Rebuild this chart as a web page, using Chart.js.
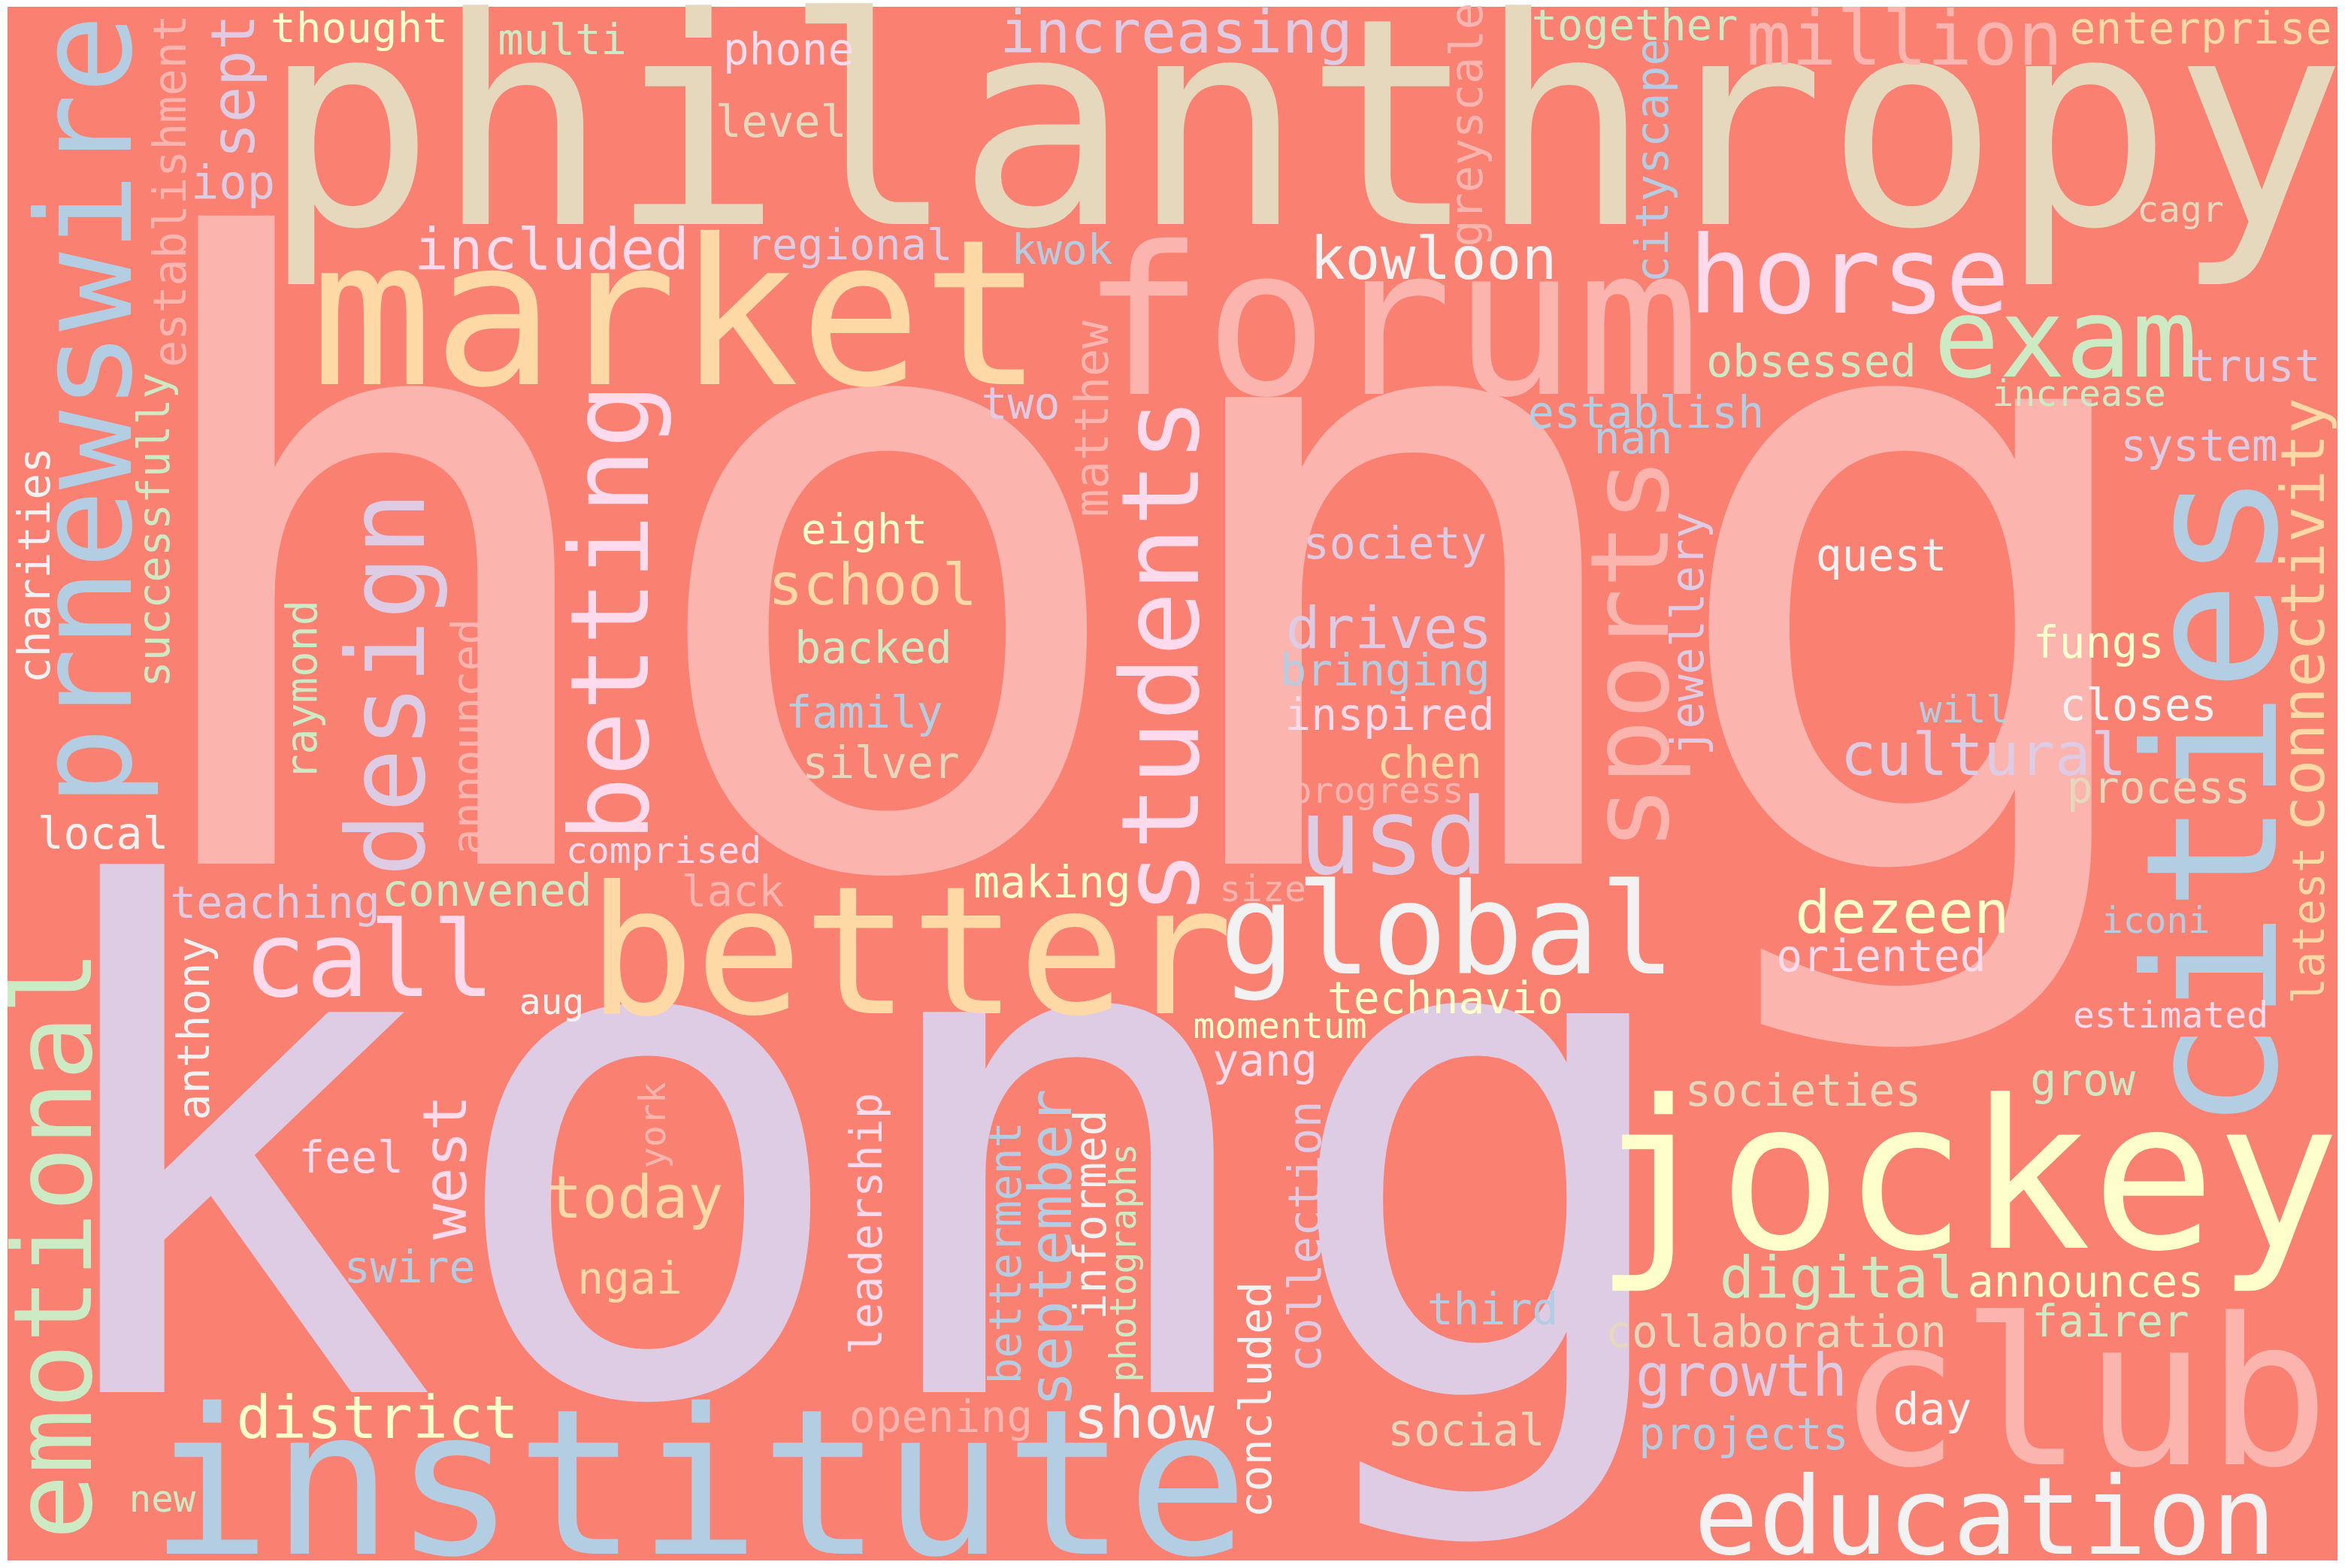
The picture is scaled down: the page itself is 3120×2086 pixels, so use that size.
<!DOCTYPE html>
<html>
<head>
<meta charset="utf-8">
<title>hong kong word cloud</title>
<script src="https://cdn.jsdelivr.net/npm/chart.js@4.4.1/dist/chart.umd.min.js"></script>
<style>
  html, body { margin: 0; padding: 0; background: #ffffff; overflow: hidden; }
  #wrap { position: absolute; left: 0; top: 0; width: 100vw; height: 100vh; }
</style>
</head>
<body>
<div id="wrap"><canvas id="cloud"></canvas></div>
<script>
// words of the cloud and their weights (font height, in y-axis units)
var words = [
  'hong', 'kong', 'philanthropy', 'market', 'forum', 'jockey', 'club', 'institute',
  'better', 'cities', 'prnewswire', 'global', 'emotional', 'education', 'horse', 'exam',
  'students', 'betting', 'design', 'sports', 'usd', 'call', 'million', 'included',
  'kowloon', 'increasing', 'school', 'drives', 'cultural', 'dezeen', 'today', 'digital',
  'growth', 'district', 'show', 'september', 'west', 'connectivity', 'sept', 'thought',
  'multi', 'phone', 'together', 'enterprise', 'level', 'regional', 'kwok', 'iop',
  'establishment', 'greyscale', 'cityscape', 'cagr', 'obsessed', 'trust', 'increase', 'establish',
  'nan', 'system', 'matthew', 'two', 'charities', 'successfully', 'raymond', 'eight',
  'backed', 'family', 'silver', 'announced', 'society', 'quest', 'bringing', 'inspired',
  'jewellery', 'fungs', 'will', 'closes', 'chen', 'progress', 'process', 'latest',
  'local', 'comprised', 'lack', 'size', 'making', 'teaching', 'convened', 'oriented',
  'iconi', 'anthony', 'aug', 'technavio', 'momentum', 'estimated', 'yang', 'feel',
  'york', 'leadership', 'betterment', 'informed', 'photographs', 'collection', 'concluded', 'societies',
  'grow', 'announces', 'fairer', 'swire', 'ngai', 'third', 'collaboration', 'opening',
  'day', 'social', 'projects', 'new'
];
var weights = [
  1135, 925, 384, 270, 274, 275, 272, 270,
  238, 243, 175, 168, 145, 143, 142, 146,
  143, 145, 142, 145, 140, 139, 100, 76,
  78, 78, 77, 76, 79, 79, 78, 77,
  78, 78, 78, 78, 80, 80, 80, 56,
  57, 58, 57, 58, 58, 57, 56, 62,
  60, 60, 60, 48, 58, 58, 48, 58,
  58, 58, 62, 58, 58, 58, 57, 56,
  58, 58, 58, 58, 58, 58, 58, 58,
  60, 58, 49, 58, 58, 48, 58, 58,
  58, 48, 57, 48, 58, 58, 58, 58,
  48, 58, 48, 58, 48, 48, 58, 58,
  48, 58, 58, 58, 48, 60, 58, 58,
  58, 58, 58, 58, 58, 58, 58, 58,
  58, 58, 58, 49
];

// layout of the cloud: anchor of each word (centre along the text, on its baseline)
var posX = [
  1522, 1140, 1735, 901, 1850, 2617, 2772, 930,
  1211, 3028, 174, 1926, 121, 2641, 2460, 2748,
  1594, 862, 564, 2219, 1854, 491, 2534, 734,
  1907, 1565, 1161, 1848, 2639, 2531, 845, 2450,
  2317, 502, 1522, 1425, 620, 3092, 338, 478,
  748, 1049, 2175, 2928, 1039, 1130, 1413, 310,
  247, 1972, 2219, 2901, 2410, 3000, 2766, 2190,
  2173, 2926, 1474, 1358, 66, 225, 421, 1150,
  1162, 1150, 1172, 643, 1856, 2503, 1843, 1849,
  2266, 2792, 2613, 2845, 1902, 1832, 2872, 3092,
  137, 883, 975, 1680, 1400, 366, 648, 2503,
  2868, 278, 734, 1923, 1703, 2888, 1683, 467,
  885, 1173, 1358, 1471, 1511, 1757, 1691, 2399,
  2771, 2775, 2808, 545, 838, 1986, 2363, 1252,
  2571, 1951, 2320, 216
];
var posY = [
  1149, 1852, 298, 511, 524, 1660, 1948, 2067,
  1348, 1066, 546, 1295, 1656, 2067, 416, 501,
  873, 815, 910, 870, 1162, 1325, 86, 358,
  371, 70, 804, 862, 1031, 1241, 1620, 1726,
  1857, 1913, 1913, 1660, 1553, 818, 115, 56,
  72, 86, 53, 58, 182, 345, 351, 264,
  254, 166, 214, 295, 501, 507, 540, 569,
  603, 613, 557, 557, 752, 705, 918, 723,
  882, 968, 1035, 980, 743, 759, 912, 971,
  843, 875, 961, 958, 1035, 1068, 1068, 1231,
  1129, 1148, 1205, 1199, 1194, 1221, 1205, 1292,
  1241, 1368, 1349, 1348, 1381, 1367, 1431, 1560,
  1497, 1628, 1667, 1616, 1680, 1645, 1862, 1471,
  1457, 1725, 1778, 1706, 1721, 1762, 1792, 1905,
  1895, 1923, 1928, 2011
];
// 1 = word runs bottom to top
var vertical = [
  0, 0, 0, 0, 0, 0, 0, 0,
  0, 1, 1, 0, 1, 0, 0, 0,
  1, 1, 1, 1, 0, 0, 0, 0,
  0, 0, 0, 0, 0, 0, 0, 0,
  0, 0, 0, 1, 1, 1, 1, 0,
  0, 0, 0, 0, 0, 0, 0, 0,
  1, 1, 1, 0, 0, 0, 0, 0,
  0, 0, 1, 0, 1, 1, 1, 0,
  0, 0, 0, 1, 0, 0, 0, 0,
  1, 0, 0, 0, 0, 0, 0, 1,
  0, 0, 0, 0, 0, 0, 0, 0,
  0, 1, 0, 0, 0, 0, 0, 0,
  1, 1, 1, 1, 1, 1, 1, 0,
  0, 0, 0, 0, 0, 0, 0, 0,
  0, 0, 0, 0
];

// Pastel1
var palette = ['#fbb4ae', '#b3cde3', '#ccebc5', '#decbe4', '#fed9a6', '#ffffcc', '#e5d8bd', '#fddaec', '#f2f2f2'];
var tint = [
  0, 3, 6, 4, 0, 5, 0, 1,
  4, 1, 1, 8, 2, 8, 7, 2,
  7, 7, 3, 0, 3, 7, 0, 7,
  8, 3, 4, 3, 3, 5, 4, 2,
  3, 5, 8, 1, 7, 4, 3, 5,
  2, 7, 2, 4, 6, 3, 1, 3,
  0, 0, 1, 6, 2, 3, 2, 1,
  1, 3, 0, 3, 8, 2, 2, 5,
  2, 1, 6, 0, 3, 8, 1, 7,
  3, 5, 1, 8, 4, 0, 6, 4,
  8, 7, 0, 0, 5, 3, 2, 7,
  1, 8, 8, 5, 5, 7, 7, 7,
  0, 7, 1, 8, 2, 3, 8, 6,
  2, 5, 2, 1, 4, 1, 6, 0,
  8, 6, 1, 2
];

var fontFamily = '"DejaVu Sans Mono", "Liberation Mono", monospace';

var points = words.map(function (w, i) {
  return { x: posX[i], y: posY[i] };
});

var backdrop = {
  id: 'backdrop',
  beforeDatasetsDraw: function (chart) {
    var ctx = chart.ctx;
    var xs = chart.scales.x;
    var ys = chart.scales.y;
    var left = xs.getPixelForValue(10);
    var right = xs.getPixelForValue(3110);
    var top = ys.getPixelForValue(9);
    var bottom = ys.getPixelForValue(2076);
    ctx.save();
    ctx.fillStyle = '#fa8072';
    ctx.fillRect(left, top, right - left, bottom - top);
    ctx.restore();
  }
};

var wordLabels = {
  id: 'wordLabels',
  afterDatasetsDraw: function (chart) {
    var ctx = chart.ctx;
    var ys = chart.scales.y;
    var unit = Math.abs(ys.getPixelForValue(1) - ys.getPixelForValue(0));
    var meta = chart.getDatasetMeta(0);

    ctx.save();
    ctx.textAlign = 'center';
    ctx.textBaseline = 'alphabetic';
    meta.data.forEach(function (el, i) {
      ctx.save();
      ctx.font = (weights[i] * unit).toFixed(1) + 'px ' + fontFamily;
      ctx.fillStyle = palette[tint[i]];
      ctx.translate(el.x, el.y);
      if (vertical[i]) {
        ctx.rotate(-Math.PI / 2);
      }
      ctx.fillText(words[i], 0, 0);
      ctx.restore();
    });
    ctx.restore();
  }
};

new Chart(document.getElementById('cloud'), {
  type: 'scatter',
  data: {
    datasets: [{
      label: 'words',
      data: points,
      pointRadius: 0,
      pointHoverRadius: 0
    }]
  },
  options: {
    responsive: true,
    maintainAspectRatio: false,
    animation: false,
    events: [],
    layout: { padding: 0 },
    plugins: {
      legend: { display: false },
      tooltip: { enabled: false }
    },
    scales: {
      x: { type: 'linear', min: 0, max: 3120, display: false },
      y: { type: 'linear', min: 0, max: 2086, reverse: true, display: false }
    }
  },
  plugins: [backdrop, wordLabels]
});
</script>
</body>
</html>
